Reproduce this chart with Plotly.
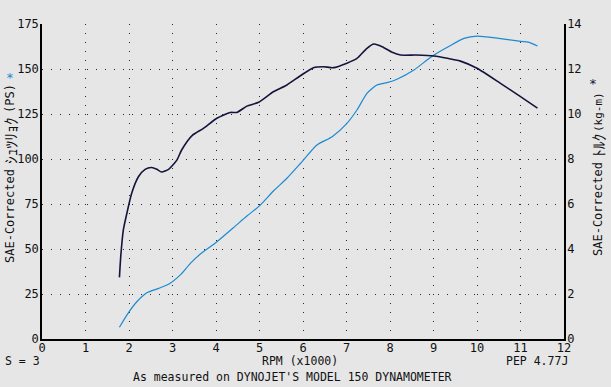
import plotly.graph_objects as go

# Power (PS) vs RPM (x1000)
rpm_power = [1.78, 1.95, 2.18, 2.41, 2.68, 2.91, 3.18, 3.41, 3.64, 3.98, 4.40, 4.71, 5.02, 5.32,
             5.63, 5.94, 6.32, 6.67, 7.01, 7.24, 7.47, 7.70, 7.93, 8.16, 8.55, 8.85, 9.01, 9.35,
             9.70, 10.0, 10.5, 10.93, 11.2, 11.39]
power_ps = [6.5, 13.3, 20.7, 25.7, 28.1, 30.4, 35.6, 42.0, 47.2, 53.2, 61.8, 68.3, 74.4, 82.2,
            89.3, 97.5, 107.8, 112.4, 119.8, 127.2, 136.5, 141.1, 142.4, 144.3, 149.4, 155.0, 157.8, 162.5,
            167.0, 168.3, 167.0, 165.6, 164.8, 162.8]

# Torque (kg-m) vs RPM (x1000)
rpm_torque = [1.78, 1.81, 1.87, 1.95, 2.06, 2.22, 2.37, 2.52, 2.64, 2.75, 2.91, 3.10, 3.21, 3.45,
              3.71, 4.02, 4.33, 4.48, 4.71, 4.98, 5.32, 5.63, 5.94, 6.24, 6.47, 6.70, 7.01, 7.24,
              7.47, 7.63, 7.82, 8.05, 8.24, 8.60, 9.01, 9.62, 10.0, 10.54, 11.0, 11.39]
torque_kgm = [2.74, 3.66, 4.85, 5.58, 6.47, 7.22, 7.54, 7.62, 7.54, 7.42, 7.54, 7.95, 8.40, 9.04,
              9.36, 9.81, 10.07, 10.07, 10.35, 10.52, 10.99, 11.29, 11.70, 12.06, 12.10, 12.06, 12.26, 12.47,
              12.92, 13.11, 12.99, 12.74, 12.62, 12.62, 12.58, 12.35, 12.03, 11.36, 10.77, 10.26]

x_ticks = list(range(0, 13))
y_left_ticks = [0, 25, 50, 75, 100, 125, 150, 175]
y_right_ticks = [0, 2, 4, 6, 8, 10, 12, 14]

FONT = "DejaVu Sans Mono, Noto Sans CJK JP, monospace"
JP = "Noto Sans CJK JP"
BG = "#e6e6e6"
NAVY = "#14143c"
BLUE = "#1b8ad2"
GRID = "#2a2a2a"

W, H = 611, 387
PL, PR, PT, PB = 42, 564, 24, 339  # plot area in pixels

fig = go.Figure()
fig.add_trace(go.Scatter(x=rpm_power, y=power_ps, mode="lines",
                         line=dict(color=BLUE, width=1.2, shape="spline", smoothing=0.6),
                         yaxis="y", showlegend=False, hoverinfo="skip"))
fig.add_trace(go.Scatter(x=rpm_torque, y=torque_kgm, mode="lines",
                         line=dict(color=NAVY, width=1.6, shape="spline", smoothing=0.6),
                         yaxis="y2", showlegend=False, hoverinfo="skip"))

fig.update_layout(
    width=W, height=H,
    margin=dict(l=PL, r=W - PR, t=PT, b=H - PB, autoexpand=False),
    paper_bgcolor=BG, plot_bgcolor=BG,
    font=dict(family=FONT, size=11.5, color="#111111"),
    xaxis=dict(range=[0, 12], tickvals=x_ticks, ticktext=[str(v) for v in x_ticks],
               showgrid=True, gridcolor=GRID, gridwidth=1, griddash="1px,8px",
               zeroline=False, showline=True, linecolor="black", linewidth=1.5,
               ticks="", automargin=False, ticklabelstandoff=-3, tickfont=dict(size=12)),
    yaxis=dict(range=[0, 175], tickvals=y_left_ticks, ticktext=[str(v) for v in y_left_ticks],
               showgrid=True, gridcolor=GRID, gridwidth=1, griddash="1px,8px",
               zeroline=False, showline=True, linecolor="black", linewidth=1.5,
               ticks="", automargin=False, ticklabelstandoff=-1, tickfont=dict(size=12)),
    yaxis2=dict(range=[0, 14], tickvals=y_right_ticks, ticktext=[str(v) for v in y_right_ticks],
                overlaying="y", side="right", showgrid=False, zeroline=False,
                showline=True, linecolor="black", linewidth=1.5, ticks="",
                automargin=False, ticklabelstandoff=-1, tickfont=dict(size=12)),
)

T = dict(size=12)
K = dict(size=15.5, family=JP)
ann = [
    # left axis title (reads bottom to top)
    dict(text="SAE-Corrected", x=10, y=216, textangle=-90, font=T),
    dict(text="ｼｭﾂﾘｮｸ", x=10, y=141, textangle=-90, font=K),
    dict(text="(PS)", x=10, y=99, textangle=-90, font=T),
    dict(text="*", x=10, y=78, font=dict(color=BLUE, size=13)),
    # right axis title
    dict(text="SAE-Corrected", x=598, y=209, textangle=-90, font=T),
    dict(text="ﾄﾙｸ", x=598, y=146, textangle=-90, font=K),
    dict(text="(kg-m)", x=598, y=112, textangle=-90, font=dict(size=11)),
    dict(text="*", x=593, y=83, font=dict(color=NAVY, size=13)),
    # bottom texts
    dict(text="RPM (x1000)", x=300, y=361, font=dict(size=11.5)),
    dict(text="As measured on DYNOJET'S MODEL 150 DYNAMOMETER", x=292, y=377, font=dict(size=11.5)),
    dict(text="S = 3", x=22, y=361, font=dict(size=11.5)),
    dict(text="PEP 4.77J", x=537, y=361, font=dict(size=11.5)),
]
for a in ann:
    fig.add_annotation(xref="paper", yref="paper", showarrow=False,
                       x=(a["x"] - PL) / (PR - PL), y=(PB - a["y"]) / (PB - PT),
                       text=a["text"], textangle=a.get("textangle", 0),
                       font=a["font"], xanchor="center", yanchor="middle")

fig.write_html("out.html", config={"displayModeBar": False},
               post_script="document.body.style.margin='0';document.body.style.background='#e6e6e6';")
